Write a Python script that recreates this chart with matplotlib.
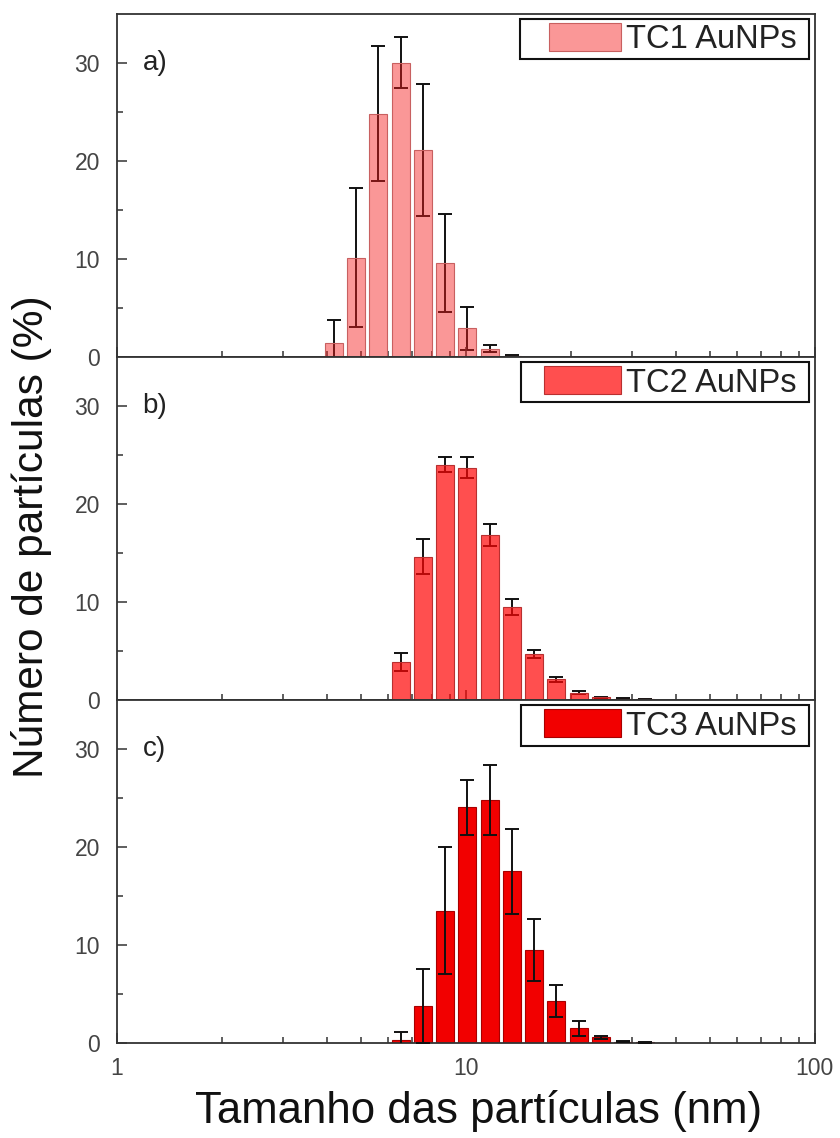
import numpy as np
import matplotlib
matplotlib.use("Agg")
import matplotlib.pyplot as plt
from matplotlib.patches import Rectangle
from matplotlib.legend_handler import HandlerPatch
from matplotlib.ticker import LogLocator, FixedLocator, NullFormatter

plt.rcParams['font.family'] = ['Liberation Sans', 'DejaVu Sans']

# ---- data ----
bins = [4.187, 4.849, 5.615, 6.503, 7.531, 8.721, 10.1, 11.7, 13.54,
        15.69, 18.17, 21.04, 24.36, 28.21, 32.67]

tc1_vals = [1.4, 10.1, 24.8, 30.0, 21.1, 9.6, 2.9, 0.8, 0.12, 0, 0, 0, 0, 0, 0]
tc1_err = [2.3, 7.1, 6.9, 2.6, 6.7, 5.0, 2.2, 0.35, 0.08, 0, 0, 0, 0, 0, 0]

tc2_vals = [0, 0, 0, 3.85, 14.6, 24.0, 23.7, 16.8, 9.5, 4.7, 2.1, 0.75, 0.25, 0.1, 0.05]
tc2_err = [0, 0, 0, 0.9, 1.8, 0.8, 1.05, 1.1, 0.8, 0.4, 0.25, 0.15, 0.08, 0.05, 0.03]

tc3_vals = [0, 0, 0, 0.35, 3.75, 13.5, 24.05, 24.8, 17.5, 9.5, 4.3, 1.5, 0.58, 0.15, 0.05]
tc3_err = [0, 0, 0, 0.75, 3.8, 6.5, 2.8, 3.55, 4.3, 3.15, 1.6, 0.75, 0.15, 0.05, 0.03]

labels = ["TC1 AuNPs", "TC2 AuNPs", "TC3 AuNPs"]
panel_tags = ["a)", "b)", "c)"]
x_ticks = [1, 10, 100]
y_ticks = [0, 10, 20, 30]

# ---- styles ----
faces = [(0.96, 0.10, 0.10, 0.45), (1.0, 0.02, 0.02, 0.70), (0.95, 0.0, 0.0, 1.0)]
edges = ['#c86060', '#b83030', '#a80000']
err_on_top = [False, False, True]
handle_offsets = [0.26, 0.20, 0.20]

fig = plt.figure(figsize=(8.4, 11.38), dpi=100)
axes = fig.subplots(3, 1, sharex=True, gridspec_kw=dict(hspace=0))
fig.subplots_adjust(left=0.139, right=0.970, top=0.988, bottom=0.0835)

b = np.array(bins)
r = (b[-1] / b[0]) ** (1 / (len(b) - 1))
frac = 0.81
left = b * r ** (-frac / 2)
width = b * r ** (frac / 2) - left


def make_patch_func(frac_off):
    def make_handle(legend=None, orig_handle=None, xdescent=0, ydescent=0,
                    width=10, height=10, fontsize=10):
        off = frac_off * width
        return Rectangle((-xdescent + off, -ydescent), width - off, height)
    return make_handle


tick_col = '#444444'
spine_col = '#333333'

for i, (ax, vals, errs) in enumerate(zip(axes, [tc1_vals, tc2_vals, tc3_vals],
                                         [tc1_err, tc2_err, tc3_err])):
    v = np.array(vals, float)
    e = np.array(errs, float)
    m = v > 0
    zb = 2
    ze = 3 if err_on_top[i] else 1
    bars = ax.bar(left[m], v[m], width=width[m], align='edge',
                  facecolor=faces[i], edgecolor=edges[i], linewidth=0.8,
                  zorder=zb)
    me = e > 0
    ax.errorbar(b[me], v[me], yerr=e[me], fmt='none', ecolor='#111111',
                elinewidth=1.4, capsize=5, capthick=1.4, zorder=ze)

    ax.set_xscale('log')
    ax.set_xlim(1, 100)
    ax.set_ylim(0, 35)
    ax.set_yticks(y_ticks)
    ax.yaxis.set_minor_locator(FixedLocator([5, 15, 25]))
    ax.xaxis.set_major_locator(FixedLocator(x_ticks))
    ax.xaxis.set_minor_locator(LogLocator(base=10, subs=np.arange(2, 10)))
    ax.xaxis.set_minor_formatter(NullFormatter())
    ax.tick_params(which='both', direction='in', color=spine_col,
                   labelcolor=tick_col, labelsize=16.5, width=1.1)
    ax.tick_params(which='major', length=7)
    ax.tick_params(which='minor', length=4)
    ax.tick_params(axis='y', pad=12)
    ax.tick_params(axis='x', pad=10)
    for s in ax.spines.values():
        s.set_color(spine_col)
        s.set_linewidth(1.3)

    ax.text(0.037, 30, panel_tags[i], transform=ax.get_yaxis_transform(),
            fontsize=20, color='#222222', ha='left', va='center')

    handle = bars.patches[0]
    leg = ax.legend(handles=[handle], labels=[labels[i] + " "], loc='upper right',
                    fontsize=23.5, frameon=True, fancybox=False, framealpha=1,
                    edgecolor='#111111', borderpad=0.12, handlelength=2.95,
                    handleheight=0.95, handletextpad=0.15, borderaxespad=0.17,
                    handler_map={Rectangle: HandlerPatch(
                        patch_func=make_patch_func(handle_offsets[i]))})
    leg.get_frame().set_linewidth(1.5)
    for t in leg.get_texts():
        t.set_color('#222222')

axes[-1].set_xticklabels([str(t) for t in x_ticks])
for ax in axes[:-1]:
    ax.tick_params(axis='x', labelbottom=False)

fig.text(0.5696, 0.024, "Tamanho das partículas (nm)", fontsize=31.5,
         ha='center', va='center', color='#111111')
fig.text(0.038, 0.528, "Número de partículas (%)", fontsize=30.5,
         rotation=90, ha='center', va='center', color='#111111')

fig.savefig("out.png", dpi=100)
